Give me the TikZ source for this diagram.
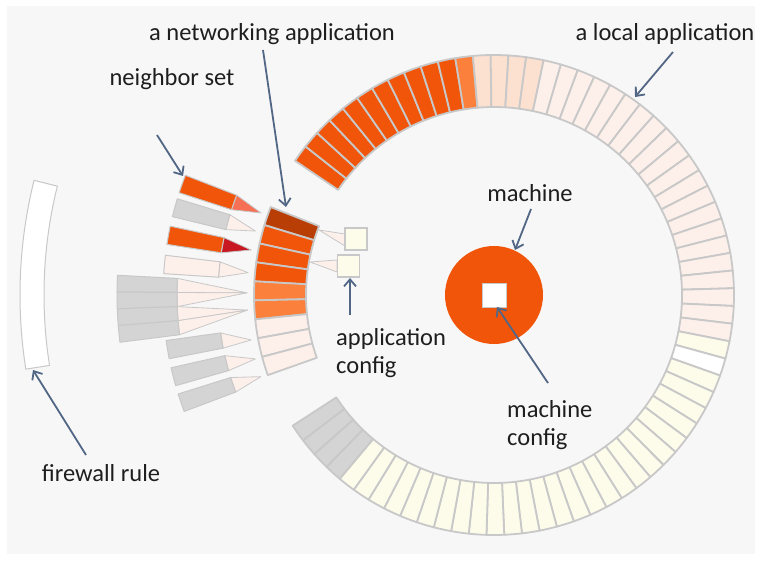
\documentclass[tikz,border=0pt]{standalone}
\usepackage{fontspec}
\setmainfont{Carlito}
\usetikzlibrary{arrows.meta,calc}
\definecolor{panel}{RGB}{247,247,247}
\definecolor{orgA}{RGB}{240,85,10}
\definecolor{orgB}{RGB}{250,128,60}
\definecolor{brownc}{RGB}{185,62,5}
\definecolor{peach}{RGB}{252,224,208}
\definecolor{pinkc}{RGB}{253,240,234}
\definecolor{yellowc}{RGB}{253,252,235}
\definecolor{grayc}{RGB}{212,212,212}
\definecolor{salmon}{RGB}{245,112,85}
\definecolor{darkred}{RGB}{200,25,35}
\definecolor{segline}{RGB}{200,200,200}
\definecolor{arrowc}{RGB}{82,102,133}
\definecolor{txt}{RGB}{30,30,30}
\newcommand{\ringseg}[5]{%
  \path[#5] ([shift={({-(#1)}:#3)}]C) arc[start angle={-(#1)},end angle={-(#2)},radius=#3]
    -- ([shift={({-(#2)}:#4)}]C) arc[start angle={-(#2)},end angle={-(#1)},radius=#4] -- cycle;}
\newcommand{\wedgelink}[6]{% a1 a2 apex-angle base-radius apex-radius style
  \path[#6] ([shift={({-(#1)}:#4)}]C) -- ([shift={({-(#2)}:#4)}]C) -- ([shift={({-(#3)}:#5)}]C) -- cycle;}
\newcommand{\ringrange}[3]{%
  \foreach \i in {#1,...,#2}{%
    \pgfmathsetmacro\aa{146-\i*4.2464}\pgfmathsetmacro\ab{\aa-4.2464}%
    \ringseg{\aa}{\ab}{188}{240}{segst,fill=#3}}}
\begin{document}
\begin{tikzpicture}[x=1pt,y=1pt,yscale=-1,
  segst/.style={draw=segline,line width=1.8pt,line join=round},
  barst/.style={draw=segline,line width=1pt,line join=round},
  linkst/.style={draw=segline,line width=0.8pt,line join=round},
  cfgbox/.style={draw=segline,line width=1.2pt,fill=yellowc,minimum size=22pt,inner sep=0pt},
  lbl/.style={text=txt,font=\fontsize{24.5}{28}\selectfont,inner sep=0pt},
  arr/.style={draw=arrowc,line width=1.8pt,-{Straight Barb[length=7pt,width=12pt,line width=1.8pt]}}]
\useasboundingbox (0,0) rectangle (762,561);
\fill[white] (0,0) rectangle (762,561);
\fill[panel] (7,6) rectangle (755,554);
\coordinate (C) at (494,295);
% main ring
\ringrange{0}{10}{orgA}
\ringrange{11}{11}{orgB}
\ringrange{12}{15}{peach}
\ringrange{16}{36}{pinkc}
\ringrange{37}{37}{yellowc}
\ringrange{38}{38}{white}
\ringrange{39}{64}{yellowc}
\ringrange{65}{68}{grayc}
% networking application segments
\foreach \i/\c in {0/brownc,1/orgA,2/orgA,3/orgA,4/orgB,5/orgB,6/pinkc,7/pinkc,8/pinkc}{%
  \pgfmathsetmacro\aa{158.5+\i*4.556}\pgfmathsetmacro\ab{\aa+4.556}%
  \ringseg{\aa}{\ab}{188}{240}{segst,fill=\c}}
% neighbor sets with links
\foreach \m/\c/\l/\p in {160.4/orgA/salmon/160.6,164.7/grayc/pinkc/165,169.6/orgA/darkred/169.5,174.7/pinkc/pinkc/174.8,189.5/grayc/pinkc/190.5,194.3/grayc/pinkc/195,199/grayc/pinkc/199.3}{%
  \pgfmathsetmacro\aa{\m-1.6}\pgfmathsetmacro\ab{\m+1.6}%
  \wedgelink{\aa}{\ab}{\p}{276}{247}{linkst,fill=\l}
  \ringseg{\aa}{\ab}{276}{331}{barst,fill=\c}}
% big neighbor set block
\foreach \k/\p in {0/179.5,1/179.5,2/183.5,3/183.5}{%
  \pgfmathsetmacro\aa{177+\k*2.55}\pgfmathsetmacro\ab{\aa+2.55}%
  \wedgelink{\aa}{\ab}{\p}{317}{247}{linkst,fill=pinkc}}
\foreach \k in {0,...,3}{%
  \pgfmathsetmacro\aa{177+\k*2.55}\pgfmathsetmacro\ab{\aa+2.55}%
  \ringseg{\aa}{\ab}{317}{377}{barst,fill=grayc}}
% firewall rule
\ringseg{166}{189}{450}{474}{draw=segline,line width=1pt,fill=white}
% application configs
\path[linkst,fill=pinkc] (319,230) -- (345,234) -- (345,246) -- cycle;
\path[linkst,fill=pinkc] (310,262) -- (337,260) -- (337,272) -- cycle;
\node[cfgbox] (cfg1) at (356,239) {};
\node[cfgbox] (cfg2) at (348.5,266) {};
% machine
\node[circle,fill=orgA,minimum size=98pt,inner sep=0pt] (mach) at (C) {};
\node[fill=white,draw=segline,line width=0.6pt,minimum size=24pt,inner sep=0pt] (mcfg) at (C) {};
% labels
\node[lbl,anchor=base] (lblnet) at (272,41) {a networking application};
\node[lbl,anchor=base] (lbllocal) at (665,41) {a local application};
\node[lbl,anchor=base] (lblneigh) at (172,86) {neighbor set};
\node[lbl,anchor=base] (lblmach) at (530,202) {machine};
\node[lbl,anchor=base west] (lblmcfg) at (507,417) {\begin{tabular}[t]{@{}l@{}}machine\\config\end{tabular}};
\node[lbl,anchor=base west] (lblacfg) at (336,345) {\begin{tabular}[t]{@{}l@{}}application\\config\end{tabular}};
\node[lbl,anchor=base] (lblfw) at (101,481) {firewall rule};
% arrows
\coordinate (nwS) at (263,50);   \coordinate (nwE) at (286,207);
\coordinate (nbS) at (157,135);  \coordinate (nbE) at (183,176);
\coordinate (laS) at (673,52);   \coordinate (laE) at (635,97);
\coordinate (mS) at (531,209);   \coordinate (mE) at (515,250);
\coordinate (mcS) at (548,383);  \coordinate (mcE) at (497,307);
\coordinate (acS) at (350,315);  \coordinate (acE) at (350,278);
\coordinate (fwS) at (86,455);   \coordinate (fwE) at (33,370);
\draw[arr] (nwS) -- (nwE);
\draw[arr] (nbS) -- (nbE);
\draw[arr] (laS) -- (laE);
\draw[arr] (mS) -- (mE);
\draw[arr] (mcS) -- (mcE);
\draw[arr] (acS) -- (acE);
\draw[arr] (fwS) -- (fwE);
\end{tikzpicture}
\end{document}
